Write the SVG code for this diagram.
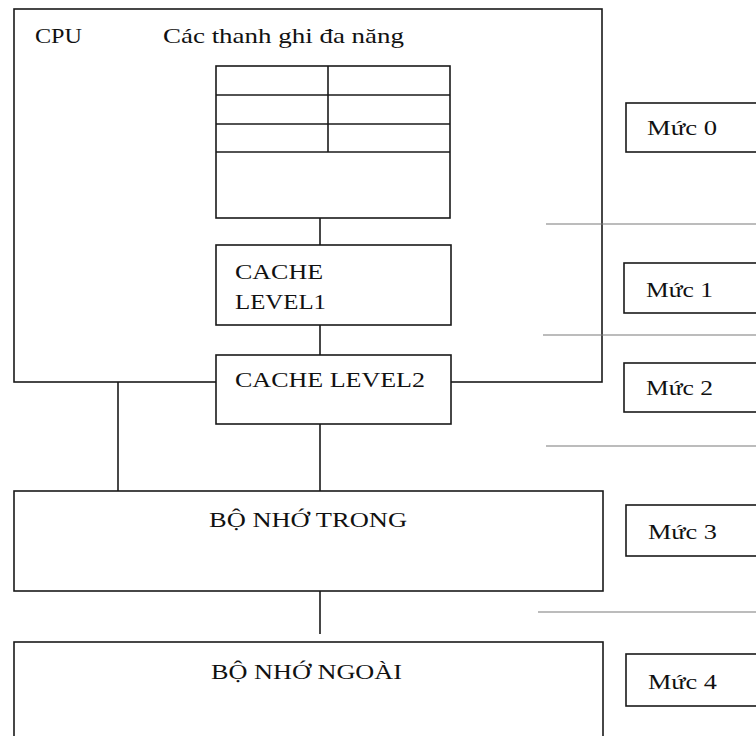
<svg xmlns="http://www.w3.org/2000/svg" width="756" height="736" viewBox="0 0 756 736">
<style>
.box{fill:#fff;stroke:#1a1a1a;stroke-width:1.6}
.ln{stroke:#1a1a1a;stroke-width:1.6;fill:none}
.gl{stroke:#7a7a7a;stroke-width:1.1;fill:none}
text{font-family:"Liberation Serif","Times New Roman",serif;font-size:22px;fill:#111}
</style>
<rect width="756" height="736" fill="#fff"/>
<g id="cpu">
<rect class="box" x="14" y="9" width="588" height="373"/>
<text x="35" y="43" textLength="47" lengthAdjust="spacingAndGlyphs">CPU</text>
<text x="163" y="43" textLength="241" lengthAdjust="spacingAndGlyphs">Các thanh ghi đa năng</text>
</g>
<g id="levels-sep">
<line class="gl" x1="546" y1="224" x2="756" y2="224"/>
<line class="gl" x1="543" y1="335" x2="756" y2="335"/>
<line class="gl" x1="546" y1="446" x2="756" y2="446"/>
<line class="gl" x1="538" y1="612" x2="756" y2="612"/>
</g>
<g id="registers">
<rect class="box" x="216" y="66" width="234" height="152"/>
<line class="ln" x1="216" y1="95" x2="450" y2="95"/>
<line class="ln" x1="216" y1="124" x2="450" y2="124"/>
<line class="ln" x1="216" y1="152" x2="450" y2="152"/>
<line class="ln" x1="328" y1="66" x2="328" y2="152"/>
</g>
<g id="connectors">
<line class="ln" x1="320" y1="218" x2="320" y2="245"/>
<line class="ln" x1="320" y1="325" x2="320" y2="355"/>
<line class="ln" x1="320" y1="424" x2="320" y2="491"/>
<line class="ln" x1="118" y1="382" x2="118" y2="491"/>
<line class="ln" x1="320" y1="591" x2="320" y2="634"/>
</g>
<g id="cache1">
<rect class="box" x="216" y="245" width="235" height="80"/>
<text x="235" y="279" textLength="88" lengthAdjust="spacingAndGlyphs">CACHE</text>
<text x="235" y="309" textLength="91" lengthAdjust="spacingAndGlyphs">LEVEL1</text>
</g>
<g id="cache2">
<rect class="box" x="216" y="355" width="235" height="69"/>
<text x="235" y="387" textLength="190" lengthAdjust="spacingAndGlyphs">CACHE LEVEL2</text>
</g>
<g id="bo-nho-trong">
<rect class="box" x="14" y="491" width="589" height="100"/>
<text x="209" y="527" textLength="198" lengthAdjust="spacingAndGlyphs">BỘ NHỚ TRONG</text>
</g>
<g id="bo-nho-ngoai">
<rect class="box" x="14" y="642" width="589" height="120"/>
<text x="211" y="679" textLength="191" lengthAdjust="spacingAndGlyphs">BỘ NHỚ NGOÀI</text>
</g>
<g id="muc0">
<rect class="box" x="626" y="103" width="150" height="49"/>
<text x="647" y="135" textLength="70" lengthAdjust="spacingAndGlyphs">Mức 0</text>
</g>
<g id="muc1">
<rect class="box" x="624" y="263" width="150" height="50"/>
<text x="646" y="297" textLength="67" lengthAdjust="spacingAndGlyphs">Mức 1</text>
</g>
<g id="muc2">
<rect class="box" x="624" y="363" width="150" height="49"/>
<text x="646" y="395" textLength="67" lengthAdjust="spacingAndGlyphs">Mức 2</text>
</g>
<g id="muc3">
<rect class="box" x="626" y="505" width="150" height="51"/>
<text x="648" y="539" textLength="69" lengthAdjust="spacingAndGlyphs">Mức 3</text>
</g>
<g id="muc4">
<rect class="box" x="626" y="654" width="150" height="52"/>
<text x="648" y="689" textLength="69" lengthAdjust="spacingAndGlyphs">Mức 4</text>
</g>
</svg>
